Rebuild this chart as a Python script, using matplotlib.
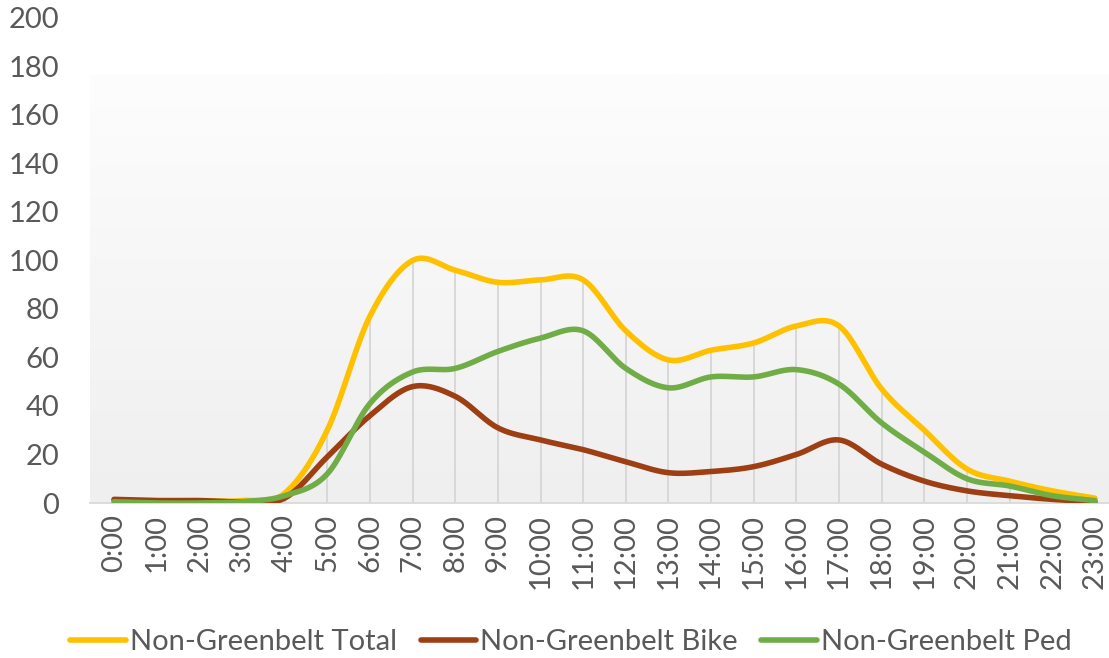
import numpy as np
import matplotlib
matplotlib.use("Agg")
import matplotlib.pyplot as plt

plt.rcParams['font.family'] = ['Lato', 'DejaVu Sans']

hours = [f"{h}:00" for h in range(24)]
total = [1, 1, 1, 1, 4, 30, 77, 100, 96, 91, 92, 92, 71, 59, 63, 66, 73, 73, 47, 30, 14, 9, 5, 2]
bike = [1.5, 1, 1, 0.5, 2, 19, 36, 48, 44, 31, 26, 22, 17, 12.5, 13, 15, 20, 26, 16, 9, 5, 3, 1.5, 0.5]
ped = [0.5, 0, 0, 0.5, 3, 12, 41, 54, 55.5, 62.5, 68, 71, 55.5, 47.5, 52, 52, 55, 49, 33, 21, 10, 7, 3, 1]


def smooth(y, n=20):
    # Excel-style smoothed line (Catmull-Rom / Bezier through the points)
    y = np.asarray(y, float)
    x = np.arange(len(y), dtype=float)
    px = np.concatenate([[x[0]], x, [x[-1]]])
    py = np.concatenate([[y[0]], y, [y[-1]]])
    xs, ys = [], []
    t = np.linspace(0, 1, n, endpoint=False)
    for i in range(len(y) - 1):
        p0, p1, p2, p3 = [np.array([px[i + k], py[i + k]]) for k in range(4)]
        c1 = p1 + (p2 - p0) / 6
        c2 = p2 - (p3 - p1) / 6
        b = (np.outer((1 - t) ** 3, p1) + np.outer(3 * (1 - t) ** 2 * t, c1)
             + np.outer(3 * (1 - t) * t ** 2, c2) + np.outer(t ** 3, p2))
        xs.extend(b[:, 0]); ys.extend(b[:, 1])
    xs.append(x[-1]); ys.append(y[-1])
    return np.array(xs), np.array(ys)


W, H = 1109, 658
fig = plt.figure(figsize=(W / 100, H / 100), dpi=100)
ax = fig.add_axes([90 / W, 1 - 503 / H, (W - 90) / W, 485 / H])
ax.patch.set_alpha(0)

step = 42.65
x0, x1 = -(114 - 90) / step, (W - 114) / step
ax.set_xlim(x0, x1)
ax.set_ylim(0, 200)

# plot area gradient
grad = np.linspace(0, 1, 256).reshape(-1, 1)
cmap = matplotlib.colors.LinearSegmentedColormap.from_list('g', ['#efefef', '#fdfdfd'])
ax.imshow(grad, extent=(x0, x1, 0, 176.6), origin='lower', aspect='auto',
          cmap=cmap, zorder=0)

xi = np.arange(len(hours))
ax.vlines(xi, 0, total, color='#d6d6d6', lw=1.3, zorder=1)

colors = ['#FFC000', '#9E3F13', '#70AD47']
names = ['Non-Greenbelt Total', 'Non-Greenbelt Bike', 'Non-Greenbelt Ped']
for ys, c, nm in zip([total, bike, ped], colors, names):
    sx, sy = smooth(ys)
    ax.plot(sx, sy, color=c, lw=4, solid_capstyle='round', label=nm, zorder=3)

for s in ['top', 'right', 'left']:
    ax.spines[s].set_visible(False)
ax.spines['bottom'].set_color('#d9d9d9')
ax.spines['bottom'].set_linewidth(1.3)

ax.set_yticks(range(0, 201, 20))
ax.set_xticks(xi)
ax.set_xticklabels(hours, rotation=90)
ax.tick_params(axis='both', length=0, labelsize=21, colors='#595959')
ax.tick_params(axis='y', pad=22)
ax.tick_params(axis='x', pad=8)

fig.legend(loc='center', bbox_to_anchor=(0.515, 1 - 642 / H), ncol=3, frameon=False,
           fontsize=21, labelcolor='#595959', handlelength=1.9, handletextpad=0.15,
           columnspacing=0.8)

fig.savefig('out.png', dpi=100)
